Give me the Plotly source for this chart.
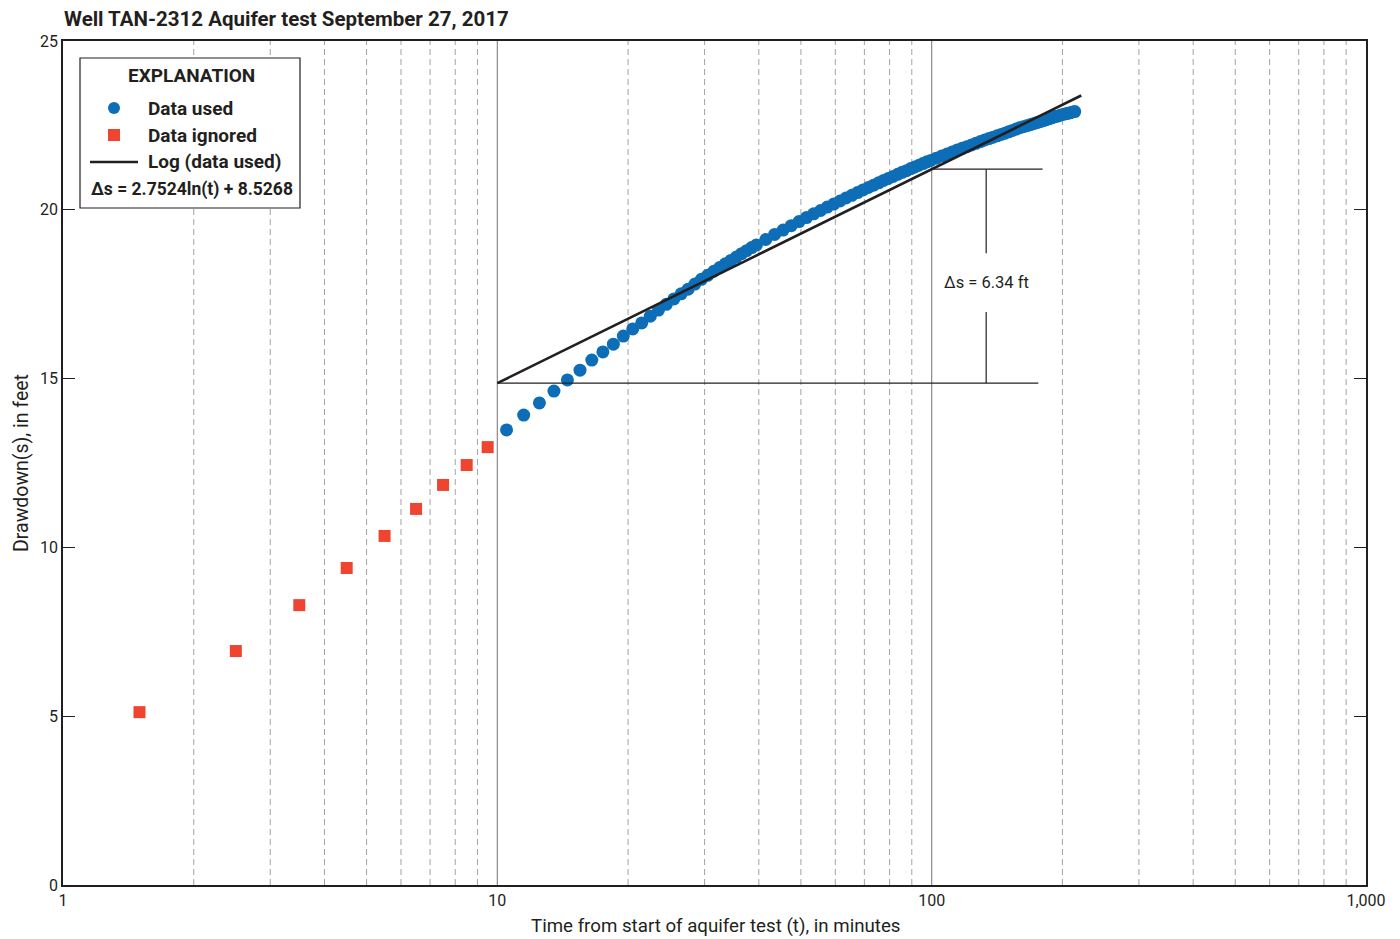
import numpy as np
import plotly.graph_objects as go

# ---- data -----------------------------------------------------------------
# Early-time drawdown, excluded from the fit (minutes, feet)
t_ignored = [1.5, 2.5, 3.5, 4.5, 5.5, 6.5, 7.5, 8.5, 9.5]
s_ignored = [5.12, 6.93, 8.29, 9.39, 10.34, 11.14, 11.85, 12.44, 12.97]

# Drawdown used for the semilog fit (minutes, feet)
t_used = [10.5, 11.5, 12.5, 13.5, 14.5, 15.5, 16.5, 17.5, 18.5, 19.5,
          20.5, 21.5, 22.5, 23.5, 24.5, 25.5, 26.5, 27.5, 28.5, 29.5,
          30.5, 31.5, 32.5, 33.5, 34.5, 35.5, 36.5, 37.5, 38.5, 39.5,
          41.5, 43.5, 45.5, 47.5, 49.5, 51.5, 53.5, 55.5, 57.5, 59.5,
          61.5, 63.5, 65.5, 67.5, 69.5, 71.5, 73.5, 75.5, 77.5, 79.5,
          81.5, 83.5, 85.5, 87.5, 89.5, 91.5, 93.5, 95.5, 97.5, 99.5,
          102.5, 105.5, 108.5, 111.5, 114.5, 117.5, 120.5, 123.5, 126.5,
          129.5, 132.5, 135.5, 138.5, 141.5, 144.5, 147.5, 150.5, 153.5,
          156.5, 159.5, 162.5, 165.5, 168.5, 171.5, 174.5, 177.5, 180.5,
          183.5, 186.5, 189.5, 192.5, 195.5, 198.5, 201.5, 204.5, 207.5,
          210.5, 213.5]
s_used = [13.48, 13.92, 14.28, 14.63, 14.96, 15.25, 15.55, 15.79, 16.02, 16.26,
          16.47, 16.65, 16.85, 17.03, 17.20, 17.36, 17.51, 17.65, 17.80, 17.94,
          18.06, 18.18, 18.29, 18.40, 18.50, 18.60, 18.70, 18.79, 18.88, 18.96,
          19.12, 19.27, 19.40, 19.53, 19.65, 19.77, 19.88, 19.98, 20.08, 20.17,
          20.26, 20.35, 20.43, 20.51, 20.59, 20.66, 20.73, 20.80, 20.87, 20.93,
          20.99, 21.05, 21.11, 21.16, 21.22, 21.27, 21.32, 21.37, 21.42, 21.46,
          21.53, 21.59, 21.65, 21.71, 21.77, 21.82, 21.87, 21.92, 21.97,
          22.02, 22.07, 22.11, 22.15, 22.19, 22.23, 22.27, 22.31, 22.35,
          22.39, 22.43, 22.46, 22.49, 22.52, 22.55, 22.58, 22.61, 22.64,
          22.67, 22.70, 22.73, 22.76, 22.78, 22.81, 22.83, 22.85, 22.87,
          22.89, 22.91]

# Log fit of the used data: s = a*ln(t) + b
fit_a = 2.7524
fit_b = 8.5268
fit_t_range = [10, 221]

# One log cycle used to read the change in drawdown
delta_t = [10, 100]

x_tick_vals = [1, 10, 100, 1000]
x_tick_text = ["1", "10", "100", "1,000"]
y_tick_vals = [0, 5, 10, 15, 20, 25]

# ---- style ------------------------------------------------------------------
FONT = "Roboto, 'Liberation Sans', Arial, sans-serif"
INK = "#231f20"
BLUE = "#0d6eb7"
RED = "#ee4430"
W, H = 1400, 939
ML, MR, MT, MB = 63, 34, 41, 54
PW, PH = W - ML - MR, H - MT - MB


def px(x):
    """Pixel column -> paper x."""
    return (x - ML) / PW


def py(y):
    """Pixel row -> paper y."""
    return (H - MB - y) / PH


def fit(t):
    return fit_a * np.log(np.asarray(t, dtype=float)) + fit_b


fig = go.Figure()

fig.add_trace(go.Scatter(
    x=t_used, y=s_used, mode="markers", name="Data used",
    marker=dict(symbol="circle", size=13, color=BLUE, line=dict(width=0)),
    showlegend=False))
fig.add_trace(go.Scatter(
    x=t_ignored, y=s_ignored, mode="markers", name="Data ignored",
    marker=dict(symbol="square", size=12, color=RED, line=dict(width=0)),
    showlegend=False))
fig.add_trace(go.Scatter(
    x=fit_t_range, y=fit(fit_t_range), mode="lines", name="Log (data used)",
    line=dict(color=INK, width=2.6), showlegend=False))

shapes = []

# Vertical grid: dashed at 2..9 of each decade, solid at decade lines
for dec in (1, 10, 100):
    for m in range(2, 10):
        shapes.append(dict(type="line", xref="x", yref="paper",
                           x0=dec * m, x1=dec * m, y0=0, y1=1, layer="below",
                           line=dict(color="#a3a3a3", width=1, dash="6px,4px")))
for dec in (10, 100):
    shapes.append(dict(type="line", xref="x", yref="paper",
                       x0=dec, x1=dec, y0=0, y1=1, layer="below",
                       line=dict(color="#8a8a8a", width=1.2)))

# Delta-s construction over one log cycle
s_lo, s_hi = fit(delta_t[0]), fit(delta_t[1])
delta_s = s_hi - s_lo
t_bar = 133.5
ann_line = dict(color=INK, width=1.2)
shapes.append(dict(type="line", xref="x", yref="y", x0=delta_t[0], x1=176,
                   y0=s_lo, y1=s_lo, line=ann_line))
shapes.append(dict(type="line", xref="x", yref="y", x0=delta_t[1], x1=180,
                   y0=s_hi, y1=s_hi, line=ann_line))
label_y = 17.84
gap = 0.87
shapes.append(dict(type="line", xref="x", yref="y", x0=t_bar, x1=t_bar,
                   y0=s_hi, y1=label_y + gap, line=ann_line))
shapes.append(dict(type="line", xref="x", yref="y", x0=t_bar, x1=t_bar,
                   y0=label_y - gap, y1=s_lo, line=ann_line))

# Explanation box
shapes.append(dict(type="rect", xref="paper", yref="paper",
                   x0=px(80), x1=px(300), y0=py(208), y1=py(58),
                   fillcolor="white", line=dict(color=INK, width=1.2)))
shapes.append(dict(type="circle", xref="paper", yref="paper",
                   x0=px(108), x1=px(120), y0=py(114), y1=py(102),
                   fillcolor=BLUE, line=dict(width=0)))
shapes.append(dict(type="rect", xref="paper", yref="paper",
                   x0=px(108), x1=px(120), y0=py(141), y1=py(129),
                   fillcolor=RED, line=dict(width=0)))
shapes.append(dict(type="line", xref="paper", yref="paper",
                   x0=px(90), x1=px(138), y0=py(162), y1=py(162),
                   line=dict(color=INK, width=2.6)))


def label(text, x, y, size, anchor="left", angle=0):
    return dict(text=text, xref="paper", yref="paper", x=px(x), y=py(y),
                xanchor=anchor, yanchor="middle", showarrow=False,
                textangle=angle, font=dict(family=FONT, size=size, color=INK))


annotations = [
    label("<b>Well TAN-2312 Aquifer test September 27, 2017</b>", 62, 19, 20.5),
    label("<b>EXPLANATION</b>", 191, 76, 19, "center"),
    label("<b>Data used</b>", 146, 108, 19),
    label("<b>Data ignored</b>", 146, 135, 19),
    label("<b>Log (data used)</b>", 146, 162, 19),
    label(f"<b>\u0394s = {fit_a:.4f}ln(t) + {fit_b:.4f}</b>", 89, 189, 17.5),
    label("Time from start of aquifer test (t), in minutes", 715, 926, 18.7,
          "center"),
    label("Drawdown(s), in feet", 21, 463, 19.5, "center", -90),
    dict(text=f"\u0394s = {delta_s:.2f} ft", xref="x", yref="y",
         x=np.log10(t_bar), y=label_y, xanchor="center", yanchor="middle",
         showarrow=False, font=dict(family=FONT, size=16.5, color=INK)),
]

fig.update_layout(
    width=W, height=H,
    margin=dict(l=ML, r=MR, t=MT, b=MB, autoexpand=False),
    paper_bgcolor="white", plot_bgcolor="white",
    font=dict(family=FONT, size=16, color=INK),
    showlegend=False,
    shapes=shapes, annotations=annotations,
    xaxis=dict(type="log", range=[0, 3], tickvals=x_tick_vals,
               ticktext=x_tick_text, ticks="", showgrid=False,
               zeroline=False, showline=True, linecolor=INK, linewidth=1.6,
               mirror=True, tickfont=dict(size=16), automargin=False),
    yaxis=dict(range=[0, 25], tickvals=y_tick_vals, ticks="inside",
               ticklen=12, tickwidth=1.2, tickcolor=INK, showgrid=False,
               zeroline=False, showline=True, linecolor=INK, linewidth=1.6,
               mirror="ticks", tickfont=dict(size=16), automargin=False),
)

fig.write_html("out.html")
